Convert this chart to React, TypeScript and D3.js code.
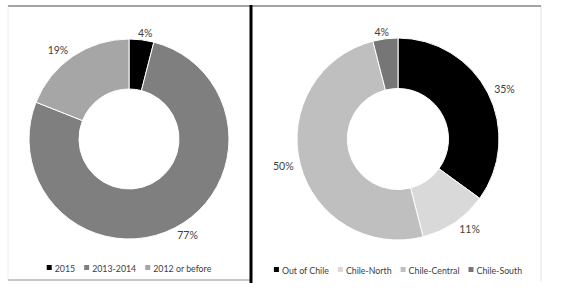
import { useEffect, useRef } from "react";
import * as d3 from "d3";

const yearLabels = ["2015", "2013-2014", "2012 or before"];
const yearValues = [4, 77, 19];
const yearColors = ["#000000", "#7f7f7f", "#a6a6a6"];

const regionLabels = ["Out of Chile", "Chile-North", "Chile-Central", "Chile-South"];
const regionValues = [35, 11, 50, 4];
const regionColors = ["#000000", "#d9d9d9", "#bfbfbf", "#767676"];

const W = 566;
const H = 308;
const FONT = "Lato, 'Open Sans', sans-serif";
const TEXT = "#404040";

function drawDonut(
  root: d3.Selection<SVGGElement, unknown, null, undefined>,
  cx: number,
  cy: number,
  outer: number,
  labels: string[],
  values: number[],
  colors: string[],
  legendY: number
) {
  const pie = d3.pie<number>().sort(null).value((d) => d);
  const arcs = pie(values);
  const arc = d3.arc<d3.PieArcDatum<number>>().innerRadius(outer * 0.5).outerRadius(outer);

  const g = root.append("g").attr("transform", `translate(${cx},${cy})`);
  g.selectAll("path")
    .data(arcs)
    .join("path")
    .attr("d", arc)
    .attr("fill", (_, i) => colors[i])
    .attr("stroke", "#fff")
    .attr("stroke-width", 1);

  // outside-end labels, nudged so the text box sits next to the ring
  g.selectAll("text")
    .data(arcs)
    .join("text")
    .attr("x", (d) => {
      const a = (d.startAngle + d.endAngle) / 2;
      const s = Math.sin(a);
      return (outer + 5) * s + 12 * Math.max(-1, Math.min(1, s * 2));
    })
    .attr("y", (d) => {
      const a = (d.startAngle + d.endAngle) / 2;
      const c = -Math.cos(a);
      return (outer + 5) * c + 2 * Math.max(-1, Math.min(1, c * 2));
    })
    .attr("text-anchor", "middle")
    .attr("dominant-baseline", "central")
    .attr("font-family", FONT)
    .attr("font-size", 10.5)
    .attr("fill", TEXT)
    .text((d) => `${d.data}%`);

  // legend, centred under the donut
  const lg = root.append("g");
  let x = 0;
  labels.forEach((lab, i) => {
    const item = lg.append("g").attr("transform", `translate(${x},0)`);
    item.append("rect").attr("x", 0).attr("y", -3).attr("width", 5).attr("height", 5).attr("fill", colors[i]);
    const t = item
      .append("text")
      .attr("x", 8)
      .attr("y", 0)
      .attr("dominant-baseline", "central")
      .attr("font-family", FONT)
      .attr("font-size", 8.8)
      .attr("fill", TEXT)
      .text(lab);
    const w = (t.node() as SVGTextElement).getComputedTextLength();
    x += 8 + w + 9;
  });
  const total = x - 9;
  lg.attr("transform", `translate(${cx - total / 2},${legendY})`);
}

export default function App() {
  const svgRef = useRef<SVGSVGElement>(null);

  useEffect(() => {
    if (!svgRef.current) return;
    const svg = d3.select(svgRef.current);
    svg.selectAll("*").remove();
    const root = svg.append("g");

    // frame
    root.append("rect").attr("width", W).attr("height", H).attr("fill", "#fff");
    root.append("line").attr("x1", 8).attr("x2", 8).attr("y1", 6).attr("y2", 280).attr("stroke", "#eeeeee");
    root.append("line").attr("x1", 541).attr("x2", 541).attr("y1", 6).attr("y2", 281).attr("stroke", "#e2e2e2");
    root.append("line").attr("x1", 8).attr("x2", 250).attr("y1", 280).attr("y2", 280).attr("stroke", "#c8c8c8").attr("stroke-width", 2);
    root.append("line").attr("x1", 8).attr("x2", 541).attr("y1", 6).attr("y2", 6).attr("stroke", "#a3a3a3").attr("stroke-width", 2);
    root.append("line").attr("x1", 251).attr("x2", 251).attr("y1", 5).attr("y2", 283).attr("stroke", "#000").attr("stroke-width", 3);

    drawDonut(root, 129, 139, 100, yearLabels, yearValues, yearColors, 268);
    drawDonut(root, 398, 139, 101, regionLabels, regionValues, regionColors, 270);
  }, []);

  return (
    <svg
      ref={svgRef}
      width={W}
      height={H}
      style={{ position: "absolute", left: 0, top: 0 }}
    />
  );
}
